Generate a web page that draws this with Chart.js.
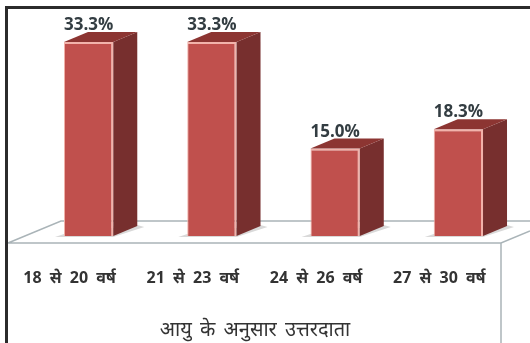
<!DOCTYPE html>
<html lang="hi">
<head>
  <meta charset="UTF-8">
  <title>आयु के अनुसार उत्तरदाता</title>
  <script src="https://cdn.jsdelivr.net/npm/chart.js"></script>
  <style>
    html, body { margin: 0; background: #fff; }
    #box { position: relative; width: 530px; height: 343px; }
  </style>
</head>
<body>
  <div id="box"><canvas id="graf"></canvas></div>

  <script>
    const categories = ['18 से 20 वर्ष', '21 से 23 वर्ष', '24 से 26 वर्ष', '27 से 30 वर्ष'];
    const values     = [33.3, 33.3, 15.0, 18.3];
    const axisTitle  = 'आयु के अनुसार उत्तरदाता';

    const FONT = '"Noto Sans", "DejaVu Sans", "Liberation Sans", sans-serif';
    const DEPTH_X = 24, DEPTH_Y = 10;

    /* ---------- Marco y piso 3D, detrás de las barras ---------- */
    const floorPlugin = {
      id: 'floor',
      beforeDraw (chart) {
        chart.ctx.wordSpacing = '4px';   // las etiquetas del original van muy separadas
      },
      beforeDatasetsDraw (chart) {
        const { ctx, chartArea: a, width, height } = chart;
        const front = a.bottom + 7, back = a.bottom - 15;
        ctx.save();
        ctx.strokeStyle = '#aab4b8';
        ctx.lineWidth = 1.5;
        ctx.beginPath();
        ctx.moveTo(8, front);
        ctx.lineTo(501, front);
        ctx.lineTo(530, front - 12);
        ctx.moveTo(8, front);
        ctx.lineTo(61, back);
        ctx.lineTo(width, back);
        ctx.moveTo(501, front);
        ctx.lineTo(501, height);
        ctx.stroke();

        ctx.strokeStyle = '#2b2b2b';
        ctx.lineWidth = 3;
        ctx.beginPath();
        ctx.moveTo(6.5, height);
        ctx.lineTo(6.5, 7.5);
        ctx.lineTo(width, 7.5);
        ctx.stroke();

        /* sombra tenue sobre el piso */
        ctx.fillStyle = '#d9d9d9';
        chart.getDatasetMeta(0).data.forEach(bar => {
          const half = bar.width / 2, b = bar.base;
          ctx.beginPath();
          ctx.moveTo(bar.x - half - 9, b + 1);
          ctx.lineTo(bar.x + half, b + 1);
          ctx.lineTo(bar.x + half + DEPTH_X + 7, b - DEPTH_Y + 1);
          ctx.lineTo(bar.x + half + DEPTH_X, b - DEPTH_Y - 1);
          ctx.lineTo(bar.x - half, b - 2);
          ctx.closePath();
          ctx.fill();
        });

        /* título del eje, descentrado respecto a las barras */
        ctx.fillStyle = '#333';
        ctx.font = '20px ' + FONT;
        ctx.wordSpacing = '3px';
        ctx.textAlign = 'center';
        ctx.textBaseline = 'middle';
        ctx.fillText(axisTitle, 255, 330);
        ctx.restore();
      }
    };

    /* ---------- Cara lateral y superior de cada barra ---------- */
    const sidesPlugin = {
      id: 'sides',
      afterDatasetsDraw (chart) {
        const { ctx } = chart;
        chart.getDatasetMeta(0).data.forEach((bar, i) => {
          const half = bar.width / 2;
          const l = bar.x - half, r = bar.x + half, t = bar.y, b = bar.base;

          ctx.save();
          ctx.fillStyle = '#772f2e';
          ctx.beginPath();
          ctx.moveTo(r, t);
          ctx.lineTo(r + DEPTH_X, t - DEPTH_Y);
          ctx.lineTo(r + DEPTH_X, b - DEPTH_Y);
          ctx.lineTo(r, b);
          ctx.closePath();
          ctx.fill();

          ctx.fillStyle = '#8c3532';
          ctx.beginPath();
          ctx.moveTo(l, t);
          ctx.lineTo(l + DEPTH_X, t - DEPTH_Y);
          ctx.lineTo(r + DEPTH_X, t - DEPTH_Y);
          ctx.lineTo(r, t);
          ctx.closePath();
          ctx.fill();

          ctx.fillStyle = '#333d42';
          ctx.font = 'bold 17px "Open Sans", sans-serif';
          ctx.wordSpacing = '0px';
          ctx.textAlign = 'center';
          ctx.textBaseline = 'alphabetic';
          ctx.fillText(values[i].toFixed(1) + '%', bar.x, t - 12);
          ctx.restore();
        });
      }
    };

    new Chart(document.getElementById('graf'), {
      type: 'bar',
      data: {
        labels: categories,
        datasets: [{
          data: values,
          backgroundColor: '#c0504d',
          borderColor: '#f2b3ab',
          borderWidth: { top: 2, right: 2, left: 1, bottom: 0 },
          borderSkipped: false,
          barPercentage: 0.4,
          categoryPercentage: 1
        }]
      },
      options: {
        responsive: true,
        maintainAspectRatio: false,
        animation: false,
        layout: { padding: { left: 27, right: 10, top: 32, bottom: 0 } },
        plugins: { legend: { display: false }, tooltip: { enabled: false } },
        scales: {
          y: { display: false, min: 0, max: 35 },
          x: {
            afterFit (scale) { scale.height = 107; },
            grid: { display: false },
            border: { display: false },
            ticks: {
              padding: 25,
              labelOffset: -19,
              color: '#333',
              maxRotation: 0,
              autoSkip: false,
              font: { family: FONT, size: 16, weight: 'bold' }
            }
          }
        }
      },
      plugins: [floorPlugin, sidesPlugin]
    });
  </script>
</body>
</html>
